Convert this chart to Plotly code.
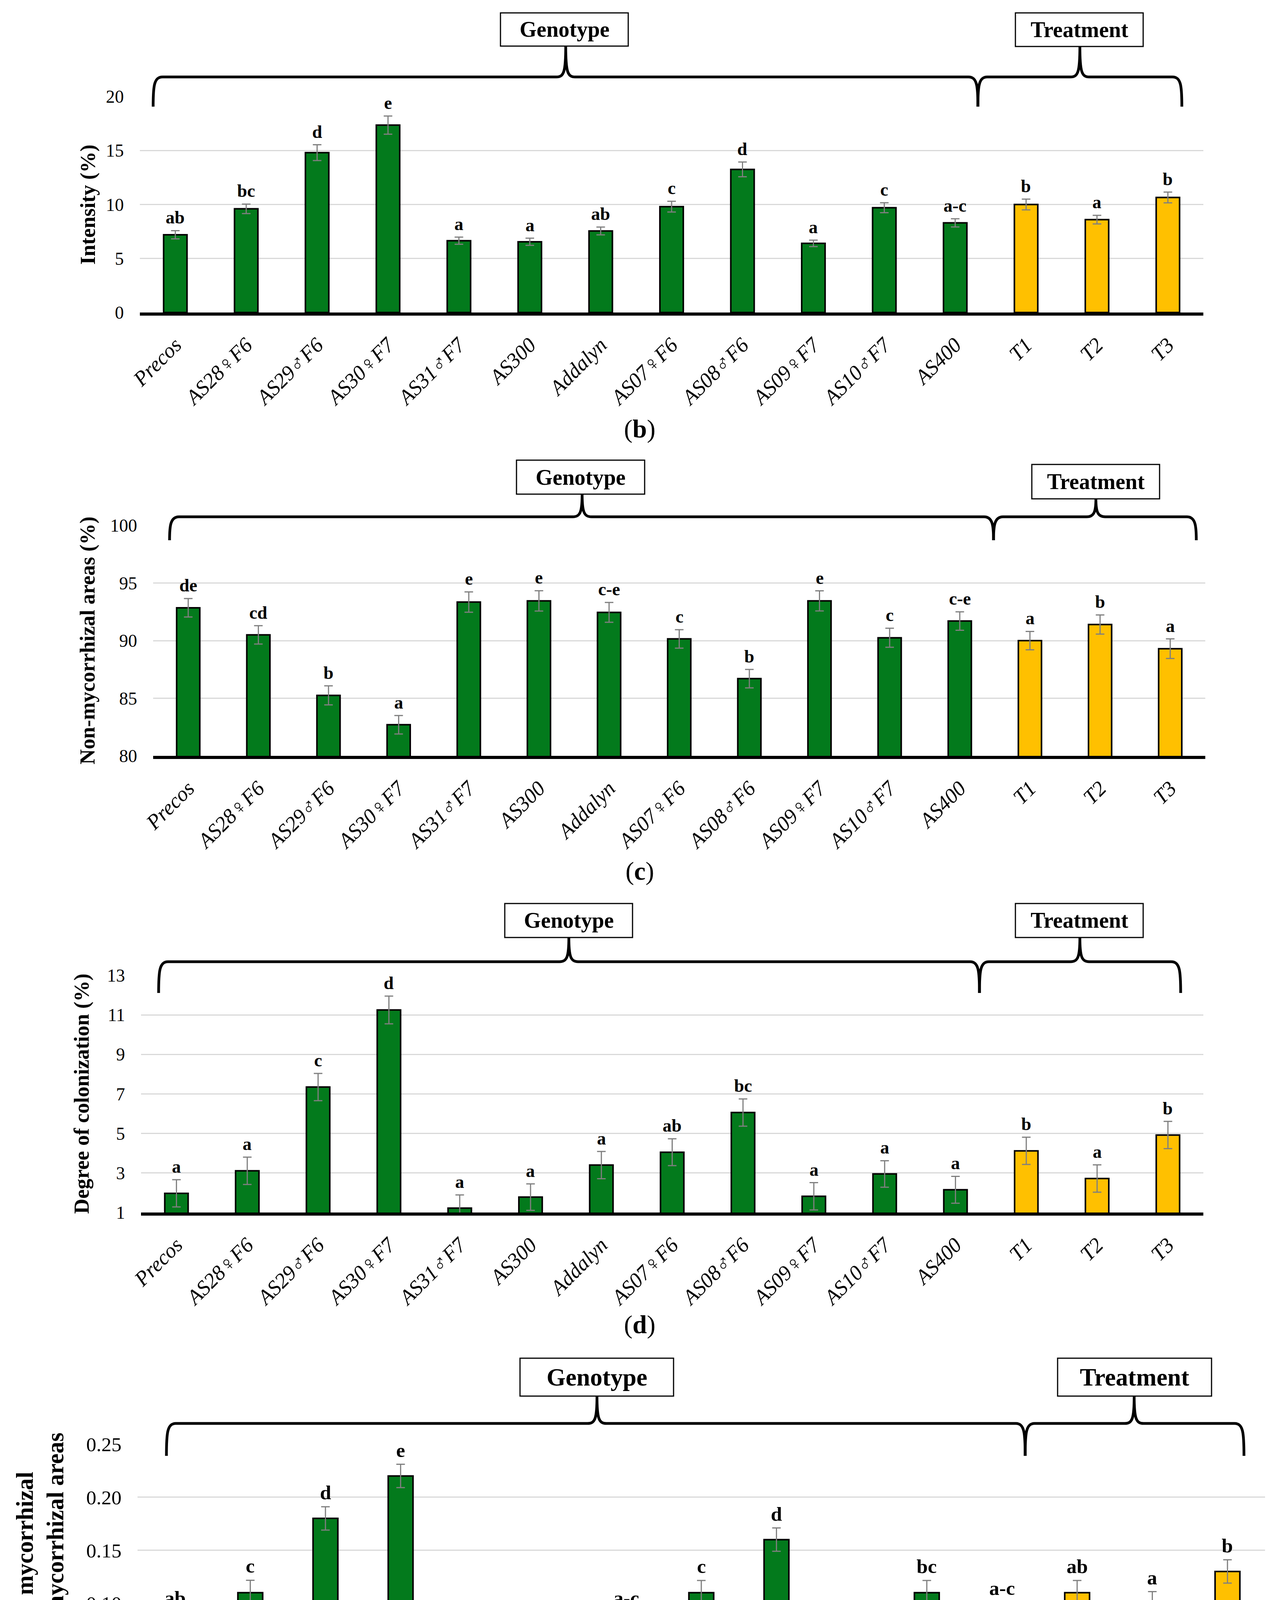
import plotly.graph_objects as go

W, H = 3266, 4750

categories = ['Precos', 'AS28♀F6', 'AS29♂F6', 'AS30♀F7', 'AS31♂F7', 'AS300', 'Addalyn',
              'AS07♀F6', 'AS08♂F6', 'AS09♀F7', 'AS10♂F7', 'AS400', 'T1', 'T2', 'T3']
groups = ['Genotype'] * 12 + ['Treatment'] * 3

# (b) intensity of mycorrhization
intensity = [7.2, 9.6, 14.8, 17.35, 6.65, 6.55, 7.55, 9.8, 13.25, 6.4, 9.7, 8.3, 10.0, 8.6, 10.65]
intensity_err = [0.38, 0.44, 0.73, 0.84, 0.33, 0.33, 0.36, 0.5, 0.68, 0.3, 0.46, 0.38, 0.5, 0.4, 0.5]
intensity_letters = ['ab', 'bc', 'd', 'e', 'a', 'a', 'ab', 'c', 'd', 'a', 'c', 'a-c', 'b', 'a', 'b']

# (c) non-mycorrhizal areas
nonmyc = [92.85, 90.5, 85.25, 82.7, 93.35, 93.45, 92.45, 90.15, 86.7, 93.45, 90.25, 91.7, 90.0, 91.4, 89.3]
nonmyc_err = [0.8, 0.8, 0.83, 0.8, 0.88, 0.88, 0.86, 0.8, 0.8, 0.87, 0.83, 0.8, 0.8, 0.83, 0.85]
nonmyc_letters = ['de', 'cd', 'b', 'a', 'e', 'e', 'c-e', 'c', 'b', 'e', 'c', 'c-e', 'a', 'b', 'a']

# (d) degree of colonization
colonization = [1.97, 3.11, 7.35, 11.25, 1.22, 1.78, 3.4, 4.05, 6.06, 1.82, 2.95, 2.15, 4.12, 2.72, 4.92]
colonization_err = [0.69, 0.69, 0.69, 0.7, 0.67, 0.67, 0.69, 0.68, 0.69, 0.69, 0.67, 0.68, 0.69, 0.69, 0.69]
colonization_letters = ['a', 'a', 'c', 'd', 'a', 'a', 'a', 'ab', 'bc', 'a', 'a', 'a', 'b', 'a', 'b']

# (e) ratio mycorrhizal / non-mycorrhizal
ratio = [0.08, 0.11, 0.18, 0.22, 0.07, 0.07, 0.08, 0.11, 0.16, 0.07, 0.11, 0.09, 0.11, 0.10, 0.13]
ratio_err = [0.0115, 0.0117, 0.011, 0.011, 0.012, 0.011, 0.0115, 0.0115, 0.011, 0.011, 0.0115, 0.011, 0.0115, 0.011, 0.011]
ratio_letters = ['ab', 'c', 'd', 'e', 'a', 'a', 'a-c', 'c', 'd', 'a', 'bc', 'a-c', 'ab', 'a', 'b']

GREEN = '#037A1C'
YELLOW = '#FFC000'
FONT = 'Liberation Serif, DejaVu Serif, serif'
colors = [GREEN if g == 'Genotype' else YELLOW for g in groups]


def X(px):
    return px / W


def Y(py):
    return 1 - py / H


# panel layout in pixels: plot box (left, top, right, bottom), title x, tag y, boxes, braces
panels = [
    dict(vals=intensity, err=intensity_err, letters=intensity_letters, title='Intensity (%)',
         rng=[0, 20], tick0=0, dtick=5, fmt='', plot=(350, 239, 3072, 792), title_x=216, tag='b', tag_y=1090,
         gbox=(1273, 25, 1600, 110), tbox=(2591, 25, 2918, 111),
         brace=dict(yh=189, yb=265, xl=384, xp=1440, xj=2495, xt=2756, xr=3017), fs=1.0),
    dict(vals=nonmyc, err=nonmyc_err, letters=nonmyc_letters, title='Non-mycorrhizal areas (%)',
         rng=[80, 100], tick0=80, dtick=5, fmt='', plot=(384, 1337, 3077, 1927), title_x=216, tag='c', tag_y=2222,
         gbox=(1314, 1170, 1642, 1257), tbox=(2633, 1181, 2960, 1269),
         brace=dict(yh=1315, yb=1375, xl=426, xp=1482, xj=2535, xt=2797, xr=3054), fs=1.0),
    dict(vals=colonization, err=colonization_err, letters=colonization_letters, title='Degree of colonization (%)',
         rng=[1, 13], tick0=1, dtick=2, fmt='', plot=(353, 2489, 3072, 3096), title_x=200, tag='d', tag_y=3383,
         gbox=(1284, 2305, 1611, 2392), tbox=(2591, 2305, 2918, 2392),
         brace=dict(yh=2454, yb=2534, xl=398, xp=1448, xj=2499, xt=2756, xr=3014), fs=1.0),
    dict(vals=ratio, err=ratio_err, letters=ratio_letters,
         title='Ratio of mycorrhizal<br>areas/non-mycorrhizal areas',
         rng=[0, 0.25], tick0=0, dtick=0.05, fmt='.2f', plot=(344, 3689, 3230, 4368), title_x=94, tag='e', tag_y=4688,
         gbox=(1323, 3469, 1716, 3566), tbox=(2699, 3469, 3093, 3566),
         brace=dict(yh=3636, yb=3719, xl=418, xp=1520, xj=2616, xt=2895, xr=3176), fs=1.12),
]


def brace_path(xl, xm, xr, yh, yb, ytop, r=24):
    pts = [
        f"M {X(xl)},{Y(yb)}",
        f"C {X(xl)},{Y(yh + r)} {X(xl + 2)},{Y(yh)} {X(xl + r)},{Y(yh)}",
        f"L {X(xm - r)},{Y(yh)}",
        f"C {X(xm - 5)},{Y(yh)} {X(xm)},{Y(yh - 12)} {X(xm)},{Y(ytop)}",
        f"C {X(xm)},{Y(yh - 12)} {X(xm + 5)},{Y(yh)} {X(xm + r)},{Y(yh)}",
        f"L {X(xr - r)},{Y(yh)}",
        f"C {X(xr - 2)},{Y(yh)} {X(xr)},{Y(yh + r)} {X(xr)},{Y(yb)}",
    ]
    return ' '.join(pts)


fig = go.Figure()
shapes = []
annotations = []
layout_axes = {}

for k, p in enumerate(panels, start=1):
    xa = 'x' if k == 1 else f'x{k}'
    ya = 'y' if k == 1 else f'y{k}'
    fs = p['fs']
    fig.add_trace(go.Bar(
        x=categories, y=p['vals'], xaxis=xa, yaxis=ya,
        marker=dict(color=colors, line=dict(color='black', width=4)),
        width=0.33,
        error_y=dict(type='data', array=p['err'], color='#7F7F7F', thickness=3, width=11),
        showlegend=False, hoverinfo='x+y'
    ))
    l, t, r, b = p['plot']
    layout_axes['xaxis' if k == 1 else f'xaxis{k}'] = dict(
        domain=[X(l), X(r)], anchor=ya, type='category', tickangle=-45, automargin=False,
        tickfont=dict(family=FONT, size=54 * fs, color='black', style='italic'),
        showline=True, linecolor='black', linewidth=8, showgrid=False, ticks='',
        ticklabelstandoff=22, fixedrange=True
    )
    layout_axes['yaxis' if k == 1 else f'yaxis{k}'] = dict(
        domain=[Y(b), Y(t)], anchor=xa, range=p['rng'], tick0=p['tick0'], dtick=p['dtick'],
        tickformat=p['fmt'], showgrid=True, gridcolor='#D9D9D9', gridwidth=3, zeroline=False,
        showline=False, ticks='', ticklabelstandoff=40, automargin=False,
        tickfont=dict(family=FONT, size=46 * fs, color='black'), fixedrange=True
    )
    # significance letters above the error bars
    for c, v, e, lt in zip(categories, p['vals'], p['err'], p['letters']):
        annotations.append(dict(
            x=c, y=v + e, xref=xa, yref=ya, text=lt, showarrow=False, yanchor='bottom', yshift=6,
            font=dict(family=FONT, size=46 * fs, color='black', weight='bold')
        ))
    # y title
    annotations.append(dict(
        x=X(p['title_x']), y=Y((t + b) / 2), xref='paper', yref='paper', text=p['title'],
        textangle=-90, showarrow=False, xanchor='center', yanchor='middle',
        font=dict(family=FONT, size=54 * fs, color='black', weight='bold')
    ))
    # panel tag
    annotations.append(dict(
        x=X(1629), y=Y(p['tag_y']), xref='paper', yref='paper', text=f"(<b>{p['tag']}</b>)",
        showarrow=False, xanchor='center', yanchor='middle',
        font=dict(family=FONT, size=66, color='black')
    ))
    # group boxes
    for box, label in ((p['gbox'], 'Genotype'), (p['tbox'], 'Treatment')):
        x0, y0, x1, y1 = box
        shapes.append(dict(type='rect', xref='paper', yref='paper', x0=X(x0), x1=X(x1), y0=Y(y1), y1=Y(y0),
                           line=dict(color='black', width=3), fillcolor='white'))
        annotations.append(dict(
            x=X((x0 + x1) / 2), y=Y((y0 + y1) / 2), xref='paper', yref='paper', text=label,
            showarrow=False, xanchor='center', yanchor='middle',
            font=dict(family=FONT, size=56 * fs, color='black', weight='bold')
        ))
    # curly braces
    br = p['brace']
    shapes.append(dict(type='path', xref='paper', yref='paper', line=dict(color='black', width=7),
                       path=brace_path(br['xl'], br['xp'], br['xj'], br['yh'], br['yb'], p['gbox'][3])))
    shapes.append(dict(type='path', xref='paper', yref='paper', line=dict(color='black', width=7),
                       path=brace_path(br['xj'], br['xt'], br['xr'], br['yh'], br['yb'], p['tbox'][3])))

fig.update_layout(
    width=W, height=H,
    margin=dict(l=0, r=0, t=0, b=0, autoexpand=False),
    plot_bgcolor='white', paper_bgcolor='white',
    showlegend=False, bargap=0.67,
    shapes=shapes, annotations=annotations,
    font=dict(family=FONT, color='black'),
    **layout_axes
)

fig.write_html('out.html')
